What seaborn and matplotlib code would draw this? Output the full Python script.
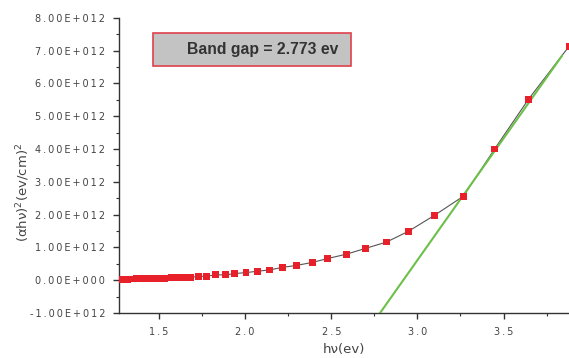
import matplotlib
matplotlib.use("Agg")
import matplotlib.pyplot as plt
import seaborn as sns
import pandas as pd
import numpy as np
from matplotlib.ticker import FuncFormatter, MultipleLocator
from matplotlib.patches import Rectangle

# data: photon energy (eV) and (alpha h nu)^2 in units of 1e12 (ev/cm)^2
hv = [1.27, 1.28, 1.29, 1.30, 1.31, 1.32, 1.33, 1.34, 1.35, 1.36, 1.37, 1.38, 1.39,
      1.40, 1.41, 1.42, 1.43, 1.44, 1.45, 1.46, 1.47, 1.48, 1.49, 1.50, 1.51, 1.52,
      1.53, 1.54, 1.55, 1.56, 1.57, 1.58, 1.59, 1.60, 1.62, 1.64, 1.66, 1.684, 1.73,
      1.777, 1.83, 1.884, 1.94, 2.005, 2.07, 2.14, 2.218, 2.30, 2.39, 2.48, 2.587,
      2.70, 2.82, 2.948, 3.10, 3.267, 3.448, 3.645, 3.88]
ahv2 = [0.03, 0.03, 0.03, 0.03, 0.03, 0.03, 0.035, 0.035, 0.035, 0.035, 0.04, 0.04, 0.04,
        0.04, 0.04, 0.045, 0.045, 0.045, 0.05, 0.05, 0.05, 0.055, 0.055, 0.055, 0.06, 0.06,
        0.06, 0.065, 0.065, 0.065, 0.07, 0.07, 0.07, 0.075, 0.08, 0.085, 0.09, 0.09, 0.11,
        0.12, 0.16, 0.16, 0.20, 0.23, 0.27, 0.31, 0.39, 0.45, 0.54, 0.66, 0.79,
        0.97, 1.16, 1.49, 1.98, 2.56, 4.00, 5.52, 7.13]
fit_x = [2.70, 3.84]
fit_y = [-1.62, 6.85]

band_gap_text = "Band gap = 2.773 ev"

df = pd.DataFrame({"hv": hv, "y": np.array(ahv2) * 1e12})
fit = pd.DataFrame({"hv": fit_x, "y": np.array(fit_y) * 1e12})

sns.set_style("ticks")
plt.rcParams['font.family'] = ['DejaVu Sans']

fig = plt.figure(figsize=(5.69, 3.58), dpi=100)
ax = fig.add_axes([0.209, 0.126, 0.791, 0.824])

sns.lineplot(data=df, x="hv", y="y", ax=ax, color="#555555", linewidth=0.8, zorder=2)
sns.lineplot(data=fit, x="hv", y="y", ax=ax, color="#6cc04a", linewidth=1.5, zorder=3)
sns.scatterplot(data=df, x="hv", y="y", ax=ax, marker="s", color="#e8202a",
                edgecolor="none", s=24, zorder=4)

ax.set_xlim(1.267, 3.88)
ax.set_ylim(-1e12, 8e12)
ax.xaxis.set_major_locator(MultipleLocator(0.5))
ax.xaxis.set_minor_locator(MultipleLocator(0.25))
ax.yaxis.set_major_locator(MultipleLocator(1e12))
ax.yaxis.set_minor_locator(MultipleLocator(0.5e12))

SP = "\u2009"

def track(s):
    return SP.join(s)

def yfmt(v, pos):
    if abs(v) < 1:
        s = "0.00E+000"
    else:
        s = f"{v / 1e12:.2f}E+012"
    return track(s)

ax.yaxis.set_major_formatter(FuncFormatter(yfmt))
ax.xaxis.set_major_formatter(FuncFormatter(lambda v, p: track(f"{v:.1f}")))

for sp in ["top", "right"]:
    ax.spines[sp].set_visible(False)
for sp in ["left", "bottom"]:
    ax.spines[sp].set_color("#333333")
    ax.spines[sp].set_linewidth(1.0)

ax.tick_params(axis="both", which="major", length=4.5, width=1.0, color="#333333",
               labelsize=7, labelcolor="#444444", direction="out")
ax.tick_params(axis="y", which="major", pad=5.5)
ax.tick_params(axis="x", which="major", pad=6)
ax.tick_params(axis="both", which="minor", length=2.5, width=0.8, color="#333333",
               direction="out")

ax.set_xlabel("hν(ev)", fontsize=9.5, color="#444444")
ax.xaxis.set_label_coords((344 - 119) / 450, -(343 - 313) / 295)
ax.set_ylabel("(αhν)$^2$(ev/cm)$^2$", fontsize=9.5, color="#444444")
ax.yaxis.set_label_coords(-(119 - 32) / 450, (313 - 192) / 295)

rect = Rectangle((153 / 569, 1 - 66 / 358), (351 - 153) / 569, (66 - 33) / 358,
                 transform=fig.transFigure, facecolor="#c3c3c3", edgecolor="#e0404a",
                 linewidth=1.2, zorder=5)
fig.patches.append(rect)
fig.text(262.5 / 569, 1 - 49.5 / 358, band_gap_text, fontsize=11.3, color="#333333",
         ha="center", va="center", fontweight="bold", zorder=6,
         family="Liberation Sans")

fig.savefig("out.png", dpi=100)
